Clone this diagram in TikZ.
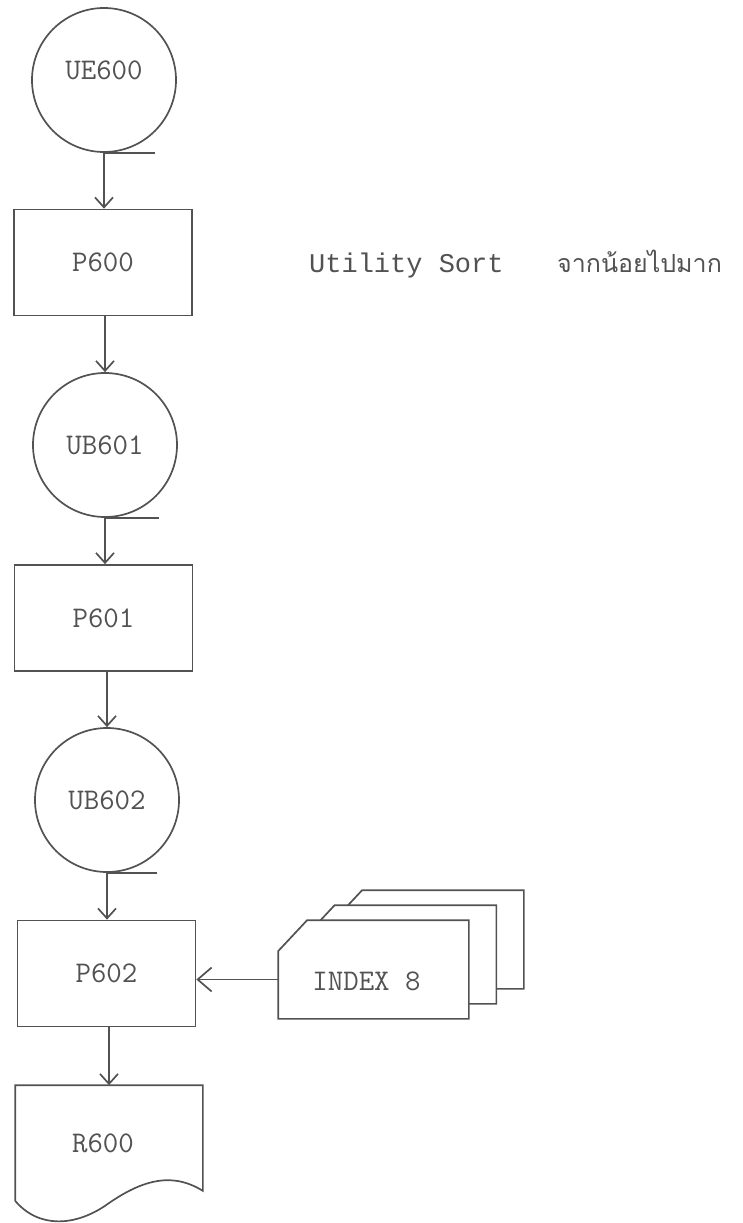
\documentclass[tikz,border=0pt]{standalone}
\usepackage{fontspec}
\usepackage{tikz}
\usetikzlibrary{positioning,arrows.meta,calc}
\newfontfamily\courier{Liberation Mono}
\newfontfamily\thaifont[Script=Thai]{Loma}

\begin{document}
\begin{tikzpicture}[x=1pt,y=-1pt,line width=1.7pt,color=black!68,
    >={Straight Barb[length=10pt,width=18pt]},
    tape/.style={circle,draw,minimum size=144pt,inner sep=0pt,font=\fontsize{30}{34}\selectfont\ttfamily},
    proc/.style={rectangle,draw,minimum width=178pt,minimum height=106pt,inner sep=0pt,font=\fontsize{30}{34}\selectfont\ttfamily},
    doc/.style={rectangle,minimum width=186pt,minimum height=114pt,inner sep=0pt,font=\fontsize{30}{34}\selectfont\ttfamily},
    card/.style={rectangle,minimum width=189pt,minimum height=97pt,inner sep=0pt}]

    \useasboundingbox (0,0) rectangle (742,1223);

    \node[tape] (UB600) at (104,80) {\raisebox{0pt}[0pt][0pt]{UE600}};
    \node[proc] (P600) at (103,262.5) {P600};
    \node[tape] (UB601) at (105,445) {UB601};
    \node[proc] (P601) at (103.5,618) {P601};
    \node[tape] (UB602) at (107,800) {UB602};
    \node[proc] (P602) at (106.5,973.5) {P602};
    \node[doc] (R600) at (109,1143) {\hspace*{-12pt}R600};
    \node[card] (IX) at (373.5,969.5) {};

    \node[anchor=base west,font=\fontsize{27}{30}\selectfont\courier] (util) at (305,272) {Utility Sort};
    \node[anchor=base west,font=\fontsize{25}{30}\selectfont\thaifont] (thai) at (553,272) {จากน้อยไปมาก};

    % tape marks
    \draw (UB600.south) -- ++(51,0);
    \draw (UB601.south) -- ++(54,0);
    \draw (UB602.south) -- ++(50,0);

    % report
    \draw (R600.south west) -- (R600.north west) -- (R600.north east) -- ([yshift=10pt]R600.south east)
        .. controls +(-32,-20) and +(35,-25) .. ($(R600.south)+(-4,5)$)
        .. controls +(-30,20) and +(24,28) .. (R600.south west);

    % stack of cards
    \foreach \k in {2,1,0}
        \filldraw[fill=white] ($(IX.south west)+(27.5*\k,-15*\k)$) -- ($(IX.north west)+(27.5*\k,-15*\k+31)$)
            -- ($(IX.north west)+(27.5*\k+29,-15*\k)$) -- ($(IX.north east)+(27.5*\k,-15*\k)$)
            -- ($(IX.south east)+(27.5*\k,-15*\k)$) -- cycle;
    \node[font=\fontsize{30}{34}\selectfont\ttfamily] (IXtext) at ($(IX)+(-7,12)$) {INDEX 8};

    \path[->] (UB600.south) edge (UB600.south |- P600.north);
    \path[->] (UB601.north |- P600.south) edge (UB601.north);
    \path[->] (UB601.south) edge (UB601.south |- P601.north);
    \path[->] (UB602.north |- P601.south) edge (UB602.north);
    \path[->] (UB602.south) edge (UB602.south |- P602.north);
    \path[->] (R600.north |- P602.south) edge (R600.north);
    \path[-{Straight Barb[length=14pt,width=24pt]}] ([yshift=-10pt]IX.west) edge ([yshift=-10pt]IX.west -| P602.east);

\end{tikzpicture}
\end{document}
